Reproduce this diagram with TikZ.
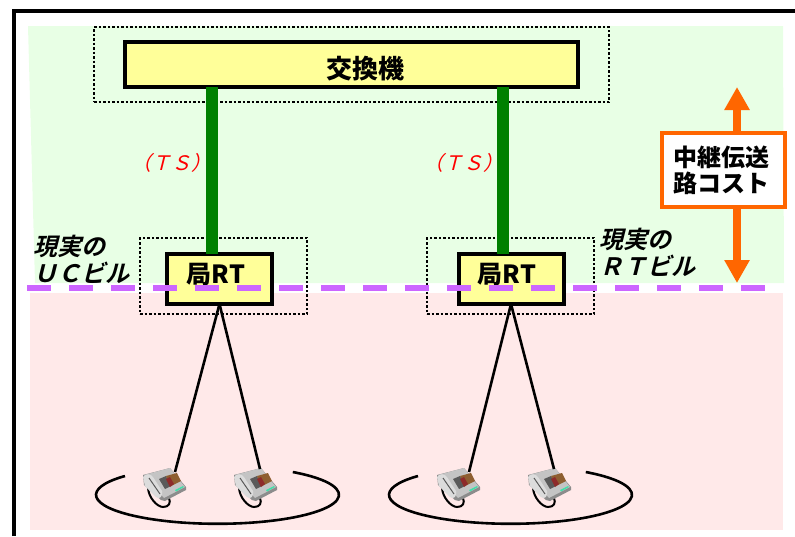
\documentclass[tikz,border=0pt]{standalone}
\usepackage{fontspec}
\setmainfont{Noto Sans CJK JP}
\newfontfamily\jpslant[FakeSlant=0.25]{Noto Sans CJK JP Bold}
\newfontfamily\jpthin[FakeSlant=0.25]{Noto Sans CJK JP}
\usetikzlibrary{
  arrows.meta,
  positioning
}
\definecolor{zone green}{HTML}{E8FFE5}
\definecolor{zone pink}{HTML}{FFE9E9}
\definecolor{box yellow}{HTML}{FFFF99}
\definecolor{line purple}{HTML}{CC66FF}
\definecolor{line orange}{HTML}{FF6600}
\definecolor{line green}{HTML}{008000}
\definecolor{phone top}{HTML}{C4C4C4}
\definecolor{phone edge}{HTML}{8C8C8C}
\definecolor{phone light}{HTML}{DCDCDC}
\definecolor{phone dark}{HTML}{5A5A5A}
\definecolor{phone panel}{HTML}{8E5E30}
\definecolor{phone red}{HTML}{8E2A2A}
\definecolor{phone key}{HTML}{40E0A8}
\tikzset{
  % For the yellow equipment boxes.
  equipment/.style={
    draw,
    line width=4pt,
    fill=box yellow,
    inner sep=0pt,
    outer sep=0pt},
%
  % For the texts in those boxes.
  equipment label/.style={
    inner sep=0pt,
    align=center,
    font=\fontsize{#1}{26}\selectfont\bfseries},
%
  % For the dotted building outlines.
  dotted frame/.style={
    draw,
    line width=2.7pt,
    dash pattern=on 2.5pt off 2pt,
    inner sep=0pt},
%
  % For the trunk lines.
  trunk/.style={
    line green,
    line width=12pt},
%
  % For subscriber lines.
  wire/.style={
    line width=2.6pt},
%
  % For the cost arrows.
  cost arrow/.style={
    line orange,
    line width=8pt,
    -{Triangle[width=24pt,length=23pt]}},
%
  % For explanations.
  description/.style={
    font=\fontsize{24}{27}\selectfont\jpslant,
    align=left,
    inner sep=0pt},
  ts label/.style={
    text=red,
    font=\fontsize{20}{20}\selectfont\jpthin,
    inner sep=0pt},
%
  % For telephones; the origin is the upper left corner.
  phone/.pic={
    \draw[line width=2pt] (5,20) .. controls (5,30) and (14,40) .. (20,40)
      .. controls (26,40) and (28,36) .. (26,31);
    \fill[phone edge] (0,8) -- (27,1) -- (43,20) -- (43,23) -- (22,34)
      -- (18,33) -- (1,18) -- cycle;
    \fill[phone top] (1,8) -- (27,1) -- (42,20) -- (21,31) -- cycle;
    \fill[phone light] (0,10) .. controls (3,6) and (8,7) .. (10,10)
      -- (19,24) .. controls (20,29) and (17,33) .. (13,30)
      -- (2,19) -- cycle;
    \draw[phone dark, line width=1pt] (6,11) -- (17,27);
    \fill[phone dark] (16,12) -- (23,9) -- (28,19) -- (22,22) -- cycle;
    \fill[phone panel] (23,9) -- (34,6) -- (38,14) -- (28,19) -- cycle;
    \fill[phone red] (23,12) -- (27,10) -- (31,17) -- (27,20) -- cycle;
    \fill[phone key] (32,23) -- (40,19) -- (41,20) -- (33,24.5) -- cycle;
    \coordinate (-left) at (32,5);
    \coordinate (-right) at (26,2);
  },
}

\begin{document}
\begin{tikzpicture}[x=1pt,y=-1pt]
  \useasboundingbox (0,0) rectangle (795,536);

  \coordinate (ringA) at (125,476);
  \coordinate (ringB) at (418,476);
  \coordinate (costtop) at (737,87);
  \coordinate (costbottom) at (737,283);
  \coordinate (baseA) at (27,288);
  \coordinate (baseB) at (765,288);

  \fill[zone green] (28,26) -- (783,26) -- (784,283) -- (35,283) -- cycle;
  \fill[zone pink] (30,293) rectangle (783,530);

  \draw[line width=4pt] (14,536) -- (14,11) -- (795,11);

  \node[dotted frame, minimum width=515pt, minimum height=75pt] (officeframe) at (351.5,64.5) {};
  \node[dotted frame, minimum width=167pt, minimum height=76pt] (ucframe) at (223.5,276) {};
  \node[dotted frame, minimum width=167pt, minimum height=76pt] (rtframe) at (510.5,276) {};

  \node[equipment, minimum width=453pt, minimum height=45pt] (exchange) at (351.5,64.5) {};
  \node[equipment, minimum width=105pt, minimum height=50pt] (rtA) at (219.5,279) {};
  \node[equipment, minimum width=105pt, minimum height=50pt] (rtB) at (511,279) {};

  \node[equipment label=26] (exchangelabel) at (365,69) {交換機};
  \node[equipment label=25] (rtlabelA) at (216,275) {局RT};
  \node[equipment label=25] (rtlabelB) at (507,275) {局RT};

  \draw[trunk] (exchange.south -| rtA.north) ++(-7.5,0) coordinate (trunkA) -- ++(0,167);
  \draw[trunk] (exchange.south -| rtB.north) ++(-8,0) coordinate (trunkB) -- ++(0,167);

  \node[ts label] (tsA) at (171,163) {（ＴＳ）};
  \node[ts label] (tsB) at (463,163) {（ＴＳ）};

  \pic (phoneA) at (143,467) {phone};
  \pic (phoneB) at (234,467) {phone};
  \pic (phoneC) at (437,467) {phone};
  \pic (phoneD) at (528,467) {phone};

  \draw[wire] (rtA.south) -- (phoneA-left);
  \draw[wire] (rtA.south) -- (phoneB-right);
  \draw[wire] (rtB.south) -- (phoneC-left);
  \draw[wire] (rtB.south) -- (phoneD-right);

  \draw[wire] (ringA) arc[start angle=139.6, end angle=411.7, x radius=121.5pt, y radius=29pt];
  \draw[wire] (ringB) arc[start angle=139.6, end angle=411.7, x radius=121.5pt, y radius=29pt];

  \draw[line purple, line width=6.5pt, dash pattern=on 24pt off 18pt] (baseA) -- (baseB);

  \node[draw=line orange, line width=4pt, fill=white, inner sep=0pt,
        minimum width=123pt, minimum height=74pt] (cost) at (723.5,170) {};
  \node[equipment label=24] (costlabel) at (721.5,170) {中継伝送\\路コスト};
  \draw[cost arrow] (cost.north -| costtop) -- (costtop);
  \draw[cost arrow] (cost.south -| costtop) -- (costbottom);

  \node[description, anchor=north west] (uclabel) at (33,235) {現実の\\ＵＣビル};
  \node[description, anchor=north west] (rtlabel) at (599,228) {現実の\\ＲＴビル};
\end{tikzpicture}
\end{document}
